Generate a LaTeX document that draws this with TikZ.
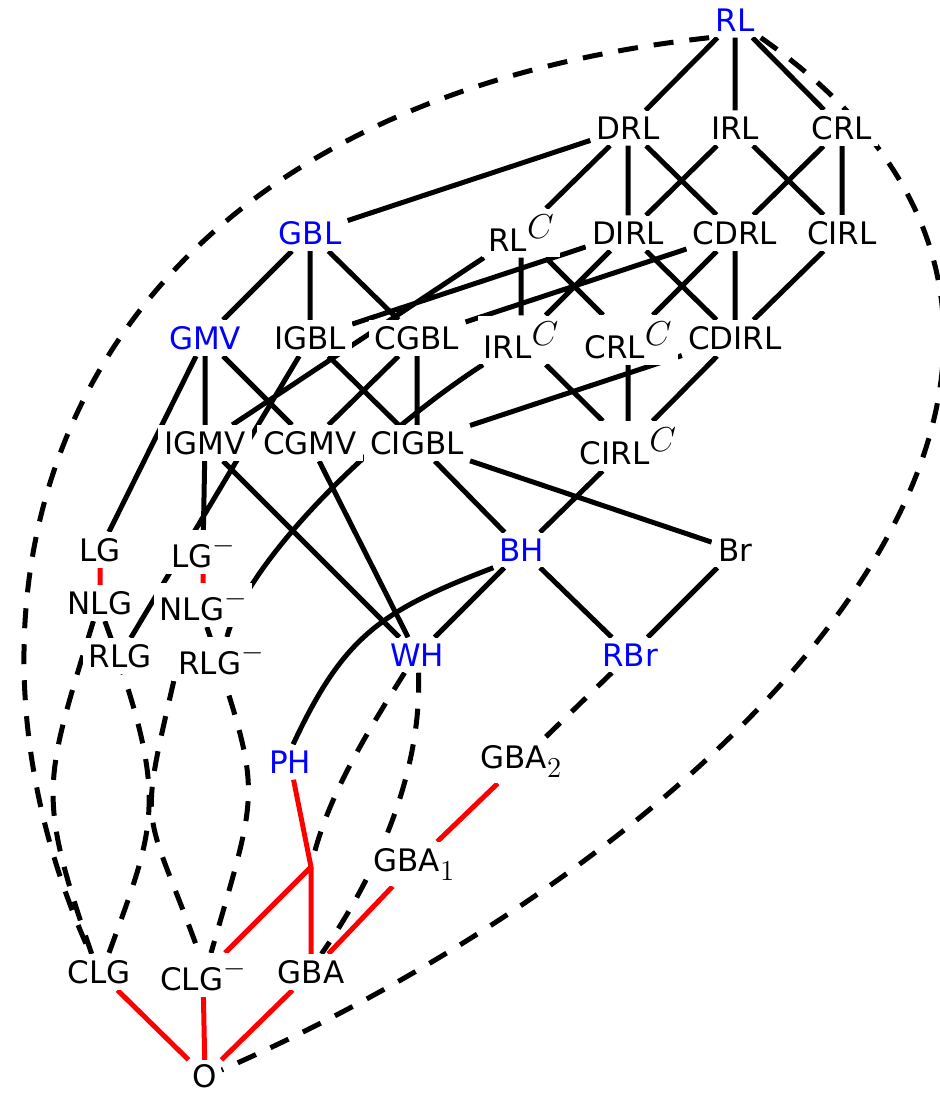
\documentclass[tikz,border=0pt]{standalone}
\usepackage{fontspec}
\setsansfont{DejaVu Sans}
\usetikzlibrary{backgrounds}
\newcommand\cs{\raisebox{6.5pt}{\fontsize{17.5}{17.5}\selectfont$C$}}
\newcommand\ms{\raisebox{7pt}{$-$}}
\newcommand\lsub[1]{\raisebox{-4.5pt}{$#1$}}
\begin{document}
\begin{tikzpicture}[x=0.5pt,y=0.5pt,
  nd/.style={fill=white,inner sep=3pt,font=\fontsize{15.5}{18}\selectfont\sffamily},
  bl/.style={nd,text=blue},
  ln/.style={line width=2.5pt},
  rd/.style={line width=2.5pt,red},
  ds/.style={line width=2.5pt,dash pattern=on 10pt off 8pt}]
\useasboundingbox (0,0) rectangle (940,-1093);
% nodes
\node[bl] (RL) at (735,-20) {RL};
\node[nd] (DRL) at (628,-128) {DRL};
\node[nd] (IRL) at (735,-128) {IRL};
\node[nd] (CRL) at (842,-128) {CRL};
\node[bl] (GBL) at (310,-233) {GBL};
\node[nd] (RLC) at (521,-233) {RL\cs};
\node[nd] (DIRL) at (628,-233) {DIRL};
\node[nd] (CDRL) at (735,-233) {CDRL};
\node[nd] (CIRL) at (842,-233) {CIRL};
\node[bl] (GMV) at (205,-338) {GMV};
\node[nd] (IGBL) at (310,-338) {IGBL};
\node[nd] (CGBL) at (417,-338) {CGBL};
\node[nd] (IRLC) at (521,-340) {IRL\cs};
\node[nd] (CRLC) at (628,-340) {CRL\cs};
\node[nd] (CDIRL) at (735,-338) {CDIRL};
\node[nd] (IGMV) at (205,-443) {IGMV};
\node[nd] (CGMV) at (310,-443) {CGMV};
\node[nd] (CIGBL) at (417,-443) {CIGBL};
\node[nd] (CIRLC) at (628,-446) {CIRL\cs};
\node[nd] (LG) at (100,-550) {LG};
\node[nd] (LGm) at (203,-552) {LG\ms};
\node[bl] (BH) at (522,-550) {BH};
\node[nd] (Br) at (735,-550) {Br};
\node[nd] (NLG) at (100,-603) {NLG};
\node[nd] (NLGm) at (203,-605) {NLG\ms};
\node[nd] (RLG) at (120,-656) {RLG};
\node[nd] (RLGm) at (221,-659) {RLG\ms};
\node[bl] (WH) at (417,-655) {WH};
\node[bl] (RBr) at (630,-655) {RBr};
\node[bl] (PH) at (290,-762) {PH};
\node[nd] (GBA2) at (521,-761) {GBA\lsub{2}};
\node[nd] (GBA1) at (414,-864) {GBA\lsub{1}};
\node[nd] (CLG) at (99,-972) {CLG};
\node[nd] (CLGm) at (203,-975) {CLG\ms};
\node[nd] (GBA) at (311,-972) {GBA};
\node[nd,inner sep=2pt] (O) at (205,-1076) {O};
\coordinate (J) at (311,-867);
\begin{pgfonlayer}{background}
% solid black
\draw[ln] (RL)--(DRL) (RL)--(IRL) (RL)--(CRL)
 (DRL)--(GBL) (DRL)--(RLC) (DRL)--(DIRL) (DRL)--(CDRL)
 (IRL)--(DIRL) (IRL)--(CIRL) (CRL)--(CDRL) (CRL)--(CIRL)
 (GBL)--(GMV) (GBL)--(IGBL) (GBL)--(CGBL)
 (DIRL)--(IGBL) (DIRL)--(IRLC) (DIRL)--(CDIRL)
 (CDRL)--(CGBL) (CDRL)--(CRLC) (CDRL)--(CDIRL) (CIRL)--(CDIRL)
 (RLC)--(IRLC) (RLC)--(CRLC) (RLC)--(IGMV)
 (GMV)--(LG) (GMV)--(IGMV) (GMV)--(CGMV)
 (IGBL)--(RLG) (IGBL)--(CIGBL) (CGBL)--(CGMV) (CGBL)--(CIGBL)
 (IRLC)--(CIRLC) (CRLC)--(CIRLC) (CDIRL)--(CIGBL) (CDIRL)--(CIRLC)
 (IGMV)--(LGm) (IGMV)--(WH) (CGMV)--(WH)
 (CIGBL)--(BH) (CIGBL)--(Br) (CIRLC)--(BH)
 (BH)--(WH) (BH)--(RBr) (Br)--(RBr);
\draw[ln] (IRLC) .. controls +(213:180) and +(75:100) .. (RLGm);
\draw[ln] (BH.south west) .. controls +(201:120) and +(65:120) .. (PH.80);
% dashed
\draw[ds] (RL.south west) .. controls (60,-110) and (-80,-580) .. (CLG.115);
\draw[ds] (RL.south east) .. controls (1219,-359) and (733,-846) .. (O.20);
\draw[ds] (RBr) -- (GBA2);
\draw[ds] (WH.-85) .. controls +(-88:110) and +(55:80) .. (GBA.60);
\draw[ds] (WH.-125) .. controls +(-122:70) and +(78:70) .. (J);
\draw[ds] (NLG.250) .. controls +(-107:170) and +(109:170) .. (CLG.112);
\draw[ds] (NLG.-75) .. controls +(-70:190) and +(70:140) .. (CLG.62);
\draw[ds] (RLGm.-155) .. controls +(-103:160) and +(110:160) .. (CLGm.100);
\draw[ds] (NLGm.-80) .. controls +(-72:180) and +(74:180) .. (CLGm.70);
% red
\draw[rd] (LG)--(NLG) (LGm)--(NLGm)
 (PH)--(J) (J)--(CLGm) (J)--(GBA)
 (GBA2)--(GBA1) (GBA1)--(GBA)
 (CLG)--(O) (CLGm)--(O) (GBA)--(O);
\end{pgfonlayer}
\end{tikzpicture}
\end{document}
